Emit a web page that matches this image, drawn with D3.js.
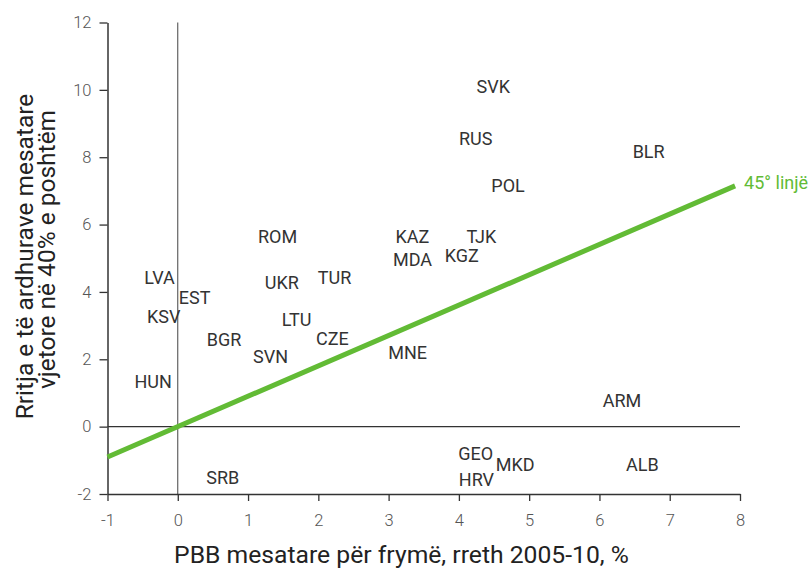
<!DOCTYPE html>
<html><head><meta charset="utf-8">
<script src="https://cdn.jsdelivr.net/npm/d3@7"></script>
<style>body{margin:0;background:#fff}svg{display:block;font-family:Roboto,"Noto Sans",sans-serif}</style>
</head><body><svg id="c" width="812" height="570"></svg>
<script>
const countries = ["SVK","RUS","BLR","POL","KAZ","TJK","MDA","KGZ","ROM","LVA","UKR","TUR","EST","KSV","LTU","BGR","CZE","SVN","MNE","HUN","ARM","GEO","MKD","ALB","SRB","HRV"];
const gdpGrowth = [4.49,4.24,6.70,4.70,3.34,4.32,3.34,4.04,1.42,-0.26,1.48,2.23,0.24,-0.20,1.69,0.66,2.20,1.32,3.27,-0.35,6.32,4.24,4.80,6.61,0.64,4.25];
const bottom40Growth = [10.10,8.54,8.17,7.14,5.64,5.64,4.96,5.07,5.64,4.43,4.27,4.41,3.83,3.26,3.17,2.57,2.60,2.08,2.19,1.32,0.76,-0.81,-1.13,-1.13,-1.53,-1.59];
const xTicks = [-1,0,1,2,3,4,5,6,7,8];
const yTicks = [-2,0,2,4,6,8,10,12];
const lineX = [-1, 7.93];
const lineY = [-0.9, 7.15];
const lineLabel = "45° linjë";
const xTitle = "PBB mesatare për frymë, rreth 2005-10, %";
const yTitle = ["Rritja e të ardhurave mesatare", "vjetore në 40% e poshtëm"];

const svg = d3.select("#c");
const L = 107.5, R = 740, T = 22.5, B = 494;
const x = d3.scaleLinear().domain([-1, 8]).range([L, R]);
const y = d3.scaleLinear().domain([-2, 12]).range([B, T]);

// reference lines
svg.append("line").attr("x1", x(0)).attr("x2", x(0)).attr("y1", y(12)).attr("y2", y(-2))
  .attr("stroke", "#444").attr("stroke-width", 1);
svg.append("line").attr("x1", x(-1)).attr("x2", x(8)).attr("y1", y(0)).attr("y2", y(0))
  .attr("stroke", "#333").attr("stroke-width", 1.2);

// axes
const fmt = d => String(d);
const ax = svg.append("g").attr("transform", `translate(0,${B})`)
  .call(d3.axisBottom(x).tickValues(xTicks).tickFormat(fmt).tickSize(7).tickSizeOuter(0).tickPadding(13));
const ay = svg.append("g").attr("transform", `translate(${L},0)`)
  .call(d3.axisLeft(y).tickValues(yTicks).tickFormat(fmt).tickSize(8).tickSizeOuter(0).tickPadding(8));
[ax, ay].forEach(g => {
  g.select(".domain").attr("stroke", "#333").attr("stroke-width", 1.5);
  g.selectAll(".tick line").attr("stroke", "#333").attr("stroke-width", 1.3);
  g.selectAll(".tick text").attr("fill", "#555").style("font-size", "16.5px").style("font-weight", 300).style("font-family", "Roboto");
});

// 45 degree line
const lineData = lineX.map((d, i) => [d, lineY[i]]);
svg.append("path").datum(lineData)
  .attr("d", d3.line().x(d => x(d[0])).y(d => y(d[1])))
  .attr("stroke", "#62bb35").attr("stroke-width", 5).attr("fill", "none");
svg.append("text").attr("x", x(lineX[1]) + 9).attr("y", y(lineY[1]) + 3)
  .attr("fill", "#62bb35").style("font-size", "18px").text(lineLabel);

// country labels
svg.append("g").selectAll("text").data(countries).join("text")
  .attr("x", (d, i) => x(gdpGrowth[i]))
  .attr("y", (d, i) => y(bottom40Growth[i]))
  .attr("dy", "0.35em").attr("text-anchor", "middle")
  .attr("fill", "#333").style("font-size", "18px").text(d => d);

// titles
svg.append("text").attr("x", 401.5).attr("y", 563).attr("text-anchor", "middle")
  .attr("fill", "#222").style("font-size", "24.7px").text(xTitle);
svg.append("text").attr("transform", "translate(33,256.5) rotate(-90)").attr("text-anchor", "middle")
  .attr("fill", "#222").style("font-size", "24.5px").text(yTitle[0]);
svg.append("text").attr("transform", "translate(55,249.5) rotate(-90)").attr("text-anchor", "middle")
  .attr("fill", "#222").style("font-size", "24.5px").text(yTitle[1]);
</script></body></html>
